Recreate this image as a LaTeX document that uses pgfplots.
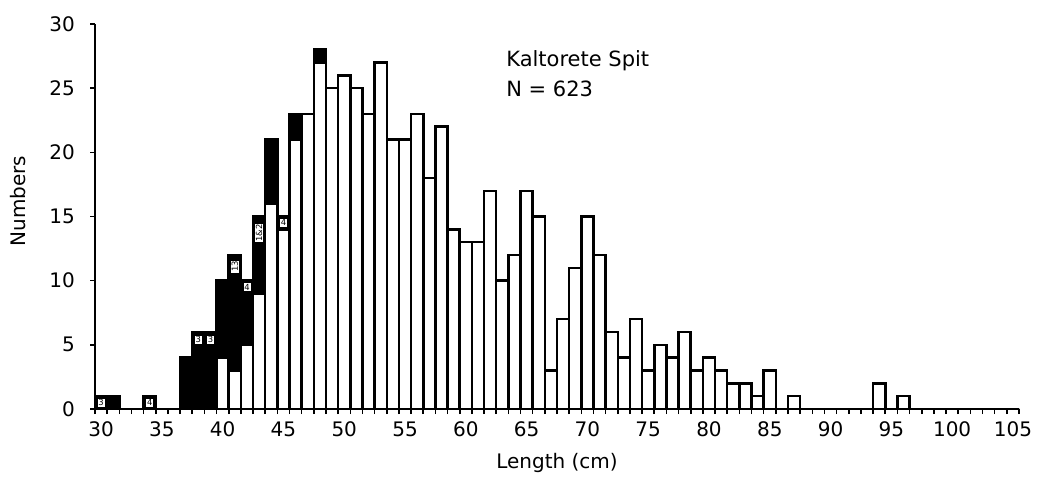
\documentclass[border=0pt]{standalone}
\usepackage{pgfplots}
\pgfplotsset{compat=1.18}
\usepackage{pgfplotstable}
\usepackage{fontspec}
\setmainfont{DejaVu Sans}

% x = length class, w = white part, b = black part
\pgfplotstableread{
x w b
30 0 1
31 0 1
32 0 0
33 0 0
34 0 1
35 0 0
36 0 0
37 0 4
38 0 6
39 0 6
40 4 6
41 3 9
42 5 5
43 9 6
44 16 5
45 14 1
46 21 2
47 23 0
48 27 1
49 25 0
50 26 0
51 25 0
52 23 0
53 27 0
54 21 0
55 21 0
56 23 0
57 18 0
58 22 0
59 14 0
60 13 0
61 13 0
62 17 0
63 10 0
64 12 0
65 17 0
66 15 0
67 3 0
68 7 0
69 11 0
70 15 0
71 12 0
72 6 0
73 4 0
74 7 0
75 3 0
76 5 0
77 4 0
78 6 0
79 3 0
80 4 0
81 3 0
82 2 0
83 2 0
84 1 0
85 3 0
86 0 0
87 1 0
88 0 0
89 0 0
90 0 0
91 0 0
92 0 0
93 0 0
94 2 0
95 0 0
96 1 0
97 0 0
98 0 0
99 0 0
100 0 0
101 0 0
102 0 0
103 0 0
104 0 0
105 0 0
}\histdata

\tikzset{boxlbl/.style={fill=white, draw=black, line width=0.4pt, inner sep=0.5pt,
  minimum width=4pt, minimum height=4.6pt, font=\fontsize{4.2}{4.5}\selectfont}}

\begin{document}
\begin{tikzpicture}
\begin{axis}[
  scale only axis, width=462pt, height=192.5pt,
  xmin=29.5, xmax=105.5, ymin=0, ymax=30,
  ybar, bar width=1, bar shift=0pt,
  axis lines=left, axis line style={-, line width=1pt},
  xtick={29.5,30.5,...,106}, xticklabels={},
  extra x ticks={30,35,...,105},
  extra x tick labels={30,35,40,45,50,55,60,65,70,75,80,85,90,95,100,105},
  extra x tick style={major tick length=0pt},
  ytick={0,5,...,30},
  tick align=outside, major tick length=2.5pt,
  tick style={black, line width=0.8pt},
  /pgf/number format/assume math mode=true,
  tick label style={font=\fontsize{10}{12}\selectfont},
  yticklabel style={xshift=-4pt},
  xticklabel style={yshift=-3pt},
  xlabel={Length (cm)}, ylabel={Numbers},
  xlabel style={at={(rel axis cs:0.5,0)}, anchor=center, yshift=-27pt, font=\fontsize{10}{12}\selectfont},
  ylabel style={at={(rel axis cs:0,0.54)}, anchor=center, yshift=38.5pt, font=\fontsize{10}{12}\selectfont},
  clip=false,
]
\addplot[fill=black, draw=black, line width=1.25pt] table[x=x, y expr=\thisrow{w}+\thisrow{b}]{\histdata};
\addplot[fill=white, draw=black, line width=1.25pt] table[x=x, y=w]{\histdata};
\coordinate (L1) at (axis cs:30,0.5);
\coordinate (L2) at (axis cs:34,0.5);
\coordinate (L3) at (axis cs:38,5.4);
\coordinate (L4) at (axis cs:39,5.4);
\coordinate (L5) at (axis cs:41,11.1);
\coordinate (L6) at (axis cs:42,9.5);
\coordinate (L7) at (axis cs:43,13.7);
\coordinate (L8) at (axis cs:45,14.5);
\coordinate (T) at (axis cs:63.3,27.95);
\coordinate (sw) at (rel axis cs:0,0);
\coordinate (ne) at (rel axis cs:1,1);
\end{axis}
\node[boxlbl] at (L1) {3};
\node[boxlbl] at (L2) {4};
\node[boxlbl] at (L3) {3};
\node[boxlbl] at (L4) {3};
\node[boxlbl, rotate=90] at (L5) {13};
\node[boxlbl] at (L6) {4};
\node[boxlbl, rotate=90] at (L7) {1\&2};
\node[boxlbl] at (L8) {4};
\node[anchor=north west, inner sep=0pt, align=left, font=\fontsize{10.5}{15}\selectfont] at (T) {Kaltorete Spit\\N = 623};
\path (sw) ++(-47.5pt,-42pt) coordinate (bl);
\path (ne) ++(11.5pt,12pt) coordinate (tr);
\pgfresetboundingbox
\path[use as bounding box] (bl) rectangle (tr);
\end{tikzpicture}
\end{document}
